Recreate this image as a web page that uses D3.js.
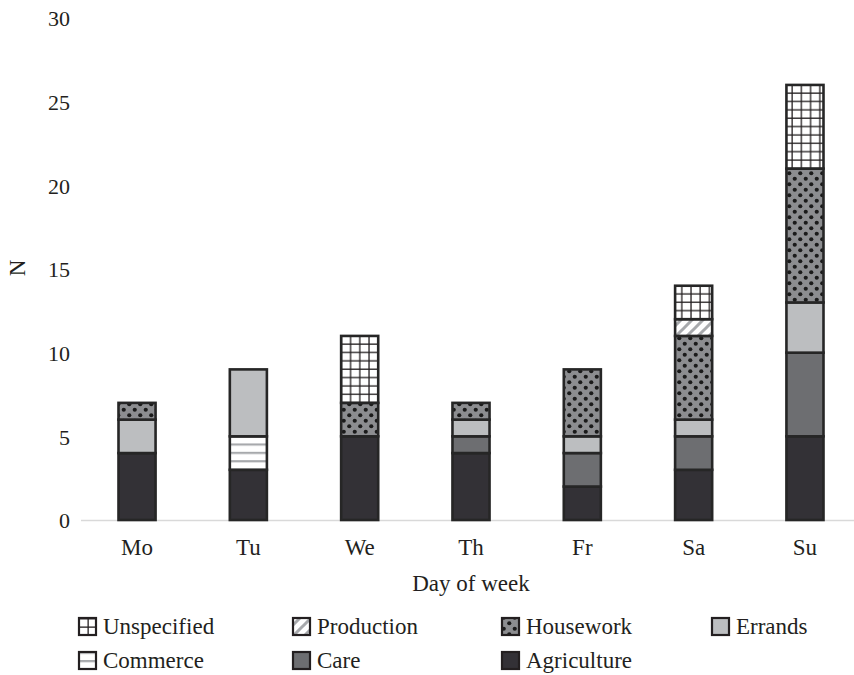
<!DOCTYPE html>
<html>
<head>
<meta charset="utf-8">
<script src="https://cdn.jsdelivr.net/npm/d3@7/dist/d3.min.js"></script>
<style>
  html, body { margin: 0; padding: 0; background: #fff; }
  svg text { font-family: "Liberation Serif", "DejaVu Serif", serif; fill: #231f20; }
</style>
</head>
<body>
<svg id="chart" width="854" height="675"></svg>
<script>
// Days of the week along the x axis
const days = ["Mo", "Tu", "We", "Th", "Fr", "Sa", "Su"];

// Activity counts per day, stacked bottom to top
const agriculture = [4, 3, 5, 4, 2, 3, 5];
const care        = [0, 0, 0, 1, 2, 2, 5];
const commerce    = [0, 2, 0, 0, 0, 0, 0];
const errands     = [2, 4, 0, 1, 1, 1, 3];
const housework   = [1, 0, 2, 1, 4, 5, 8];
const production  = [0, 0, 0, 0, 0, 1, 0];
const unspecified = [0, 0, 4, 0, 0, 2, 5];

const seriesNames = ["Agriculture", "Care", "Commerce", "Errands", "Housework", "Production", "Unspecified"];
const seriesValues = [agriculture, care, commerce, errands, housework, production, unspecified];

const yTicks = [0, 5, 10, 15, 20, 25, 30];

// Legend layout: two rows in this order
const legendRows = [
  ["Unspecified", "Production", "Housework", "Errands"],
  ["Commerce", "Care", "Agriculture"]
];

const rows = days.map((d, i) => {
  const r = { day: d };
  seriesNames.forEach((s, k) => { r[s] = seriesValues[k][i]; });
  return r;
});

const FONT = 23;
const svg = d3.select("#chart");
const defs = svg.append("defs");

const x = d3.scaleBand().domain(days).range([118.5, 823.5]).paddingInner(0.667).paddingOuter(0);
const y = d3.scaleLinear().domain([0, 30]).range([520, 18]);
const half = (y(0) - y(1)) / 2;

// Fill patterns for each activity
function pat(id, w, h, build) {
  const p = defs.append("pattern").attr("id", id)
    .attr("patternUnits", "userSpaceOnUse").attr("width", w).attr("height", h);
  build(p, w, h);
}
pat("p-unspec", 9.2, half, (p, w, h) => {
  p.append("rect").attr("width", w).attr("height", h).attr("fill", "#fff");
  p.append("line").attr("x1", 1).attr("x2", 1).attr("y1", 0).attr("y2", h).attr("stroke", "#231f20").attr("stroke-width", 1.3);
  p.append("line").attr("x1", 0).attr("x2", w).attr("y1", 1.1).attr("y2", 1.1).attr("stroke", "#231f20").attr("stroke-width", 1.3);
});
pat("p-prod", 11, 11, (p, w, h) => {
  p.append("rect").attr("width", w).attr("height", h).attr("fill", "#fff");
  p.append("path").attr("d", "M-2,13 L13,-2 M-2,2 L2,-2 M9,13 L13,9").attr("stroke", "#a7a9ac").attr("stroke-width", 3);
});
pat("p-house", 11, 11, (p, w, h) => {
  p.append("rect").attr("width", w).attr("height", h).attr("fill", "#8c8d90");
  p.append("circle").attr("cx", 2.75).attr("cy", 2.75).attr("r", 2.1).attr("fill", "#1a1a1a");
  p.append("circle").attr("cx", 8.25).attr("cy", 8.25).attr("r", 2.1).attr("fill", "#1a1a1a");
});
pat("p-comm", 10, half, (p, w, h) => {
  p.append("rect").attr("width", w).attr("height", h).attr("fill", "#fff");
  p.append("line").attr("x1", 0).attr("x2", w).attr("y1", 1.1).attr("y2", 1.1).attr("stroke", "#a7a9ac").attr("stroke-width", 2.2);
});

const fills = {
  "Agriculture": "#333136",
  "Care": "#6d6e71",
  "Commerce": "url(#p-comm)",
  "Errands": "#bcbec0",
  "Housework": "url(#p-house)",
  "Production": "url(#p-prod)",
  "Unspecified": "url(#p-unspec)"
};

// Y axis labels (no axis line, no tick marks)
const yAxis = svg.append("g").attr("transform", "translate(70,0)")
  .call(d3.axisLeft(y).tickValues(yTicks).tickSize(0).tickPadding(0));
yAxis.select(".domain").remove();
yAxis.selectAll("text").attr("font-size", FONT - 1).attr("dy", "0.35em")
  .style("font-family", "'Liberation Serif', serif").attr("fill", "#231f20");

// Baseline
svg.append("line").attr("x1", 81).attr("x2", 854).attr("y1", y(0) + 0.5).attr("y2", y(0) + 0.5)
  .attr("stroke", "#d9d9d9").attr("stroke-width", 1.5);

// Stacked bars
const stack = d3.stack().keys(seriesNames)(rows);
const layer = svg.append("g").selectAll("g").data(stack).join("g")
  .attr("fill", d => fills[d.key]);
layer.selectAll("rect").data(d => d.filter(s => s[1] > s[0])).join("rect")
  .attr("x", d => x(d.data.day))
  .attr("width", x.bandwidth())
  .attr("y", d => y(d[1]))
  .attr("height", d => y(d[0]) - y(d[1]))
  .attr("stroke", "#262626")
  .attr("stroke-width", 2.6);

// X axis labels
const xAxis = svg.append("g").attr("transform", `translate(0,${y(0)})`)
  .call(d3.axisBottom(x).tickSize(0).tickPadding(19));
xAxis.select(".domain").remove();
xAxis.selectAll("text").attr("font-size", FONT)
  .style("font-family", "'Liberation Serif', serif").attr("fill", "#231f20");

// Axis titles
svg.append("text").attr("x", (x.range()[0] + x.range()[1]) / 2).attr("y", 591).attr("text-anchor", "middle")
  .attr("font-size", FONT).text("Day of week");
svg.append("text").attr("transform", "translate(25,268) rotate(-90)").attr("text-anchor", "middle")
  .attr("font-size", FONT).text("N");

// Legend
const colX = [78, 292, 501, 711];
const rowY = [626, 660];
legendRows.forEach((row, ri) => {
  row.forEach((name, ci) => {
    const g = svg.append("g").attr("transform", `translate(${colX[ci]},${rowY[ri]})`);
    g.append("rect").attr("x", 1).attr("y", -8).attr("width", 17).attr("height", 17)
      .attr("fill", fills[name]).attr("stroke", "#231f20").attr("stroke-width", 2.2);
    g.append("text").attr("x", 25).attr("y", 0).attr("dy", "0.33em")
      .attr("font-size", FONT).text(name);
  });
});
</script>
</body>
</html>
